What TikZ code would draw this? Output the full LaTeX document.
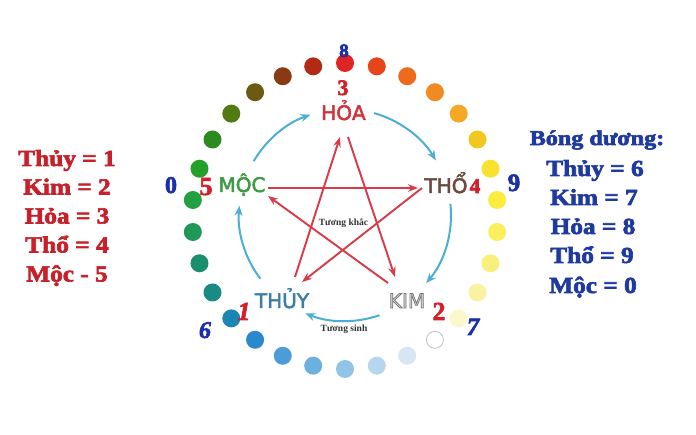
\documentclass[tikz,border=0pt]{standalone}
\usepackage{fontspec}
\setmainfont{Liberation Serif}
\newfontfamily\labfont{DejaVu Sans}
\usetikzlibrary{arrows.meta}
\newcommand\mkheavy[2]{\special{pdf:literal direct 2 Tr #1 w}#2\special{pdf:literal direct 0 Tr}}
\definecolor{txtred}{HTML}{C8202A}
\definecolor{txtblue}{HTML}{1F3A9E}
\definecolor{numred}{HTML}{D4202A}
\definecolor{numblue}{HTML}{1A2FA8}
\definecolor{sinhblue}{HTML}{4BAED6}
\definecolor{khacred}{HTML}{D83A48}
\definecolor{hoacol}{HTML}{D0343C}
\definecolor{moccol}{HTML}{3E9A45}
\definecolor{thocol}{HTML}{6B4A3F}
\definecolor{thuycol}{HTML}{3C7FA6}
\definecolor{kimfill}{HTML}{D4D4D4}
\tikzset{
  lab/.style={font={\labfont\fontsize{20}{24}\selectfont}, inner sep=0pt, anchor=base},
  listtxt/.style={font={\bfseries\fontsize{23}{28}\selectfont}, inner sep=0pt, anchor=base},
  numnode/.style={inner sep=0pt, anchor=base},
  sinh/.style={draw=sinhblue, line width=2pt, -{Stealth[length=10pt,width=8pt]}},
  khac/.style={draw=khacred, line width=1.9pt, -{Stealth[length=10pt,width=7.5pt]}},
  small/.style={font={\bfseries\fontsize{9.5}{11}\selectfont}, inner sep=0pt, text=black!80}
}
\begin{document}
\begin{tikzpicture}[x=1pt,y=-1pt]
\useasboundingbox (0,0) rectangle (696,435);
\fill[white] (0,0) rectangle (696,435);

% ring of dots
\foreach \k/\c in {0/E02424,1/E8441C,2/EE6A1C,3/F28A22,4/F5A824,5/F2C820,6/F8E22E,7/FAEC3E,8/FAF05E,9/F8F07C,10/F8F2A2,11/FAF8CC,
  13/D6E6F4,14/B6D6EE,15/92C4E6,16/6CB0E0,17/4C9CD8,18/2A88CC,19/1A86B2,20/1A8A84,21/1C8E70,22/1F9858,23/22A042,24/22A02A,25/2C8A20,26/527A12,27/6C5A12,28/8A3A12,29/B02A14}{
  \definecolor{dotc}{HTML}{\c}
  \fill[dotc] ({345+153*cos(90-12*\k)},{216-153*sin(90-12*\k)}) circle[radius=9];
}
\draw[black!25, line width=0.8pt, fill=white] ({345+153*cos(90-144)},{216-153*sin(90-144)}) circle[radius=8.5];

% element labels
\node[lab, text=hoacol] (hoa) at (343.5,120) {\mkheavy{0.5}{HỎA}};
\node[lab, text=thocol] (tho) at (446,193) {\mkheavy{0.5}{THỔ}};
\node[lab, text=kimfill] (kim) at (407,308) {\special{pdf:literal direct 2 Tr 0.7 w 0.45 0.45 0.45 RG}KIM\special{pdf:literal direct 0 Tr}};
\node[lab, text=thuycol] (thuy) at (282,308) {\mkheavy{0.5}{THỦY}};
\node[lab, text=moccol] (moc) at (242,192) {\mkheavy{0.5}{MỘC}};

% tuong sinh arcs
\coordinate (s1) at ({345+106*cos(74)},{215-106*sin(74)});
\coordinate (s2) at ({345+106*cos(6)},{215-106*sin(6)});
\coordinate (s3) at ({345+106*cos(-71)},{215-106*sin(-71)});
\coordinate (s4) at ({345+106*cos(-143)},{215-106*sin(-143)});
\coordinate (s5) at ({345+106*cos(149.5)},{215-106*sin(149.5)});
\draw[sinh] (s1) arc[start angle=-74, end angle=-31, radius=106];
\draw[sinh] (s2) arc[start angle=-6, end angle=40, radius=106];
\draw[sinh] (s3) arc[start angle=71, end angle=112, radius=106];
\draw[sinh] (s4) arc[start angle=143, end angle=185, radius=106];
\draw[sinh] (s5) arc[start angle=-149.5, end angle=-109, radius=106];

% tuong khac star
\coordinate (mocA) at (268,188);
\coordinate (thoB) at (418,188);
\coordinate (thoA) at (422,188);
\coordinate (thuyB) at (302,282);
\coordinate (thuyA) at (295,277);
\coordinate (hoaB) at (340,137);
\coordinate (hoaA) at (348,137);
\coordinate (kimB) at (395,277);
\coordinate (kimA) at (388,283);
\coordinate (mocB) at (268,196);
\draw[khac] (mocA) -- (thoB);
\draw[khac] (thoA) -- (thuyB);
\draw[khac] (thuyA) -- (hoaB);
\draw[khac] (hoaA) -- (kimB);
\draw[khac] (kimA) -- (mocB);

\node[small] (tk) at (343.5,223.5) {Tương khắc};
\node[small] (ts) at (344,329) {Tương sinh};

% numbers
\node[numnode, text=numblue, font={\bfseries\fontsize{19}{19}\selectfont}] (n8) at (344,57) {\mkheavy{0.6}{8}};
\node[numnode, text=numred, font={\bfseries\fontsize{22}{22}\selectfont}] (n3) at (343,95) {\mkheavy{0.6}{3}};
\node[numnode, text=numred, font={\bfseries\fontsize{26}{26}\selectfont}] (n5) at (206,195) {\mkheavy{0.6}{5}};
\node[numnode, text=numblue, font={\bfseries\fontsize{24}{24}\selectfont}] (n0) at (171,193) {\mkheavy{0.6}{0}};
\node[numnode, text=numred, font={\bfseries\fontsize{21}{21}\selectfont}] (n4) at (475,193) {\mkheavy{0.6}{4}};
\node[numnode, text=numblue, font={\bfseries\fontsize{25}{25}\selectfont}] (n9) at (514,191) {\mkheavy{0.6}{9}};
\node[numnode, text=numred, font={\bfseries\itshape\fontsize{26}{26}\selectfont}] (n1) at (244,320) {\mkheavy{0.6}{1}};
\node[numnode, text=numblue, font={\bfseries\itshape\fontsize{24}{24}\selectfont}] (n6) at (205,338) {\mkheavy{0.6}{6}};
\node[numnode, text=numred, font={\bfseries\fontsize{26}{26}\selectfont}] (n2) at (439,320) {\mkheavy{0.6}{2}};
\node[numnode, text=numblue, font={\bfseries\itshape\fontsize{25}{25}\selectfont}] (n7) at (473,335) {\mkheavy{0.6}{7}};

% left list
\node[listtxt, text=txtred] (l1) at (67,166) {\scalebox{1.1}[1]{\mkheavy{0.6}{Thủy = 1}}};
\node[listtxt, text=txtred] (l2) at (67,194.5) {\scalebox{1.1}[1]{\mkheavy{0.6}{Kim = 2}}};
\node[listtxt, text=txtred] (l3) at (67,223.5) {\scalebox{1.1}[1]{\mkheavy{0.6}{Hỏa = 3}}};
\node[listtxt, text=txtred] (l4) at (67,252.5) {\scalebox{1.1}[1]{\mkheavy{0.6}{Thổ = 4}}};
\node[listtxt, text=txtred] (l5) at (67,281.5) {\scalebox{1.1}[1]{\mkheavy{0.6}{Mộc - 5}}};

% right list
\node[listtxt, text=txtblue, font={\bfseries\fontsize{21}{25}\selectfont}] (r0) at (597,145) {\scalebox{1.15}[1]{\mkheavy{0.6}{Bóng dương:}}};
\node[listtxt, text=txtblue] (r1) at (595,176) {\scalebox{1.1}[1]{\mkheavy{0.6}{Thủy = 6}}};
\node[listtxt, text=txtblue] (r2) at (594,205) {\scalebox{1.1}[1]{\mkheavy{0.6}{Kim = 7}}};
\node[listtxt, text=txtblue] (r3) at (593,234) {\scalebox{1.1}[1]{\mkheavy{0.6}{Hỏa = 8}}};
\node[listtxt, text=txtblue] (r4) at (592,263) {\scalebox{1.1}[1]{\mkheavy{0.6}{Thổ = 9}}};
\node[listtxt, text=txtblue] (r5) at (593,293) {\scalebox{1.1}[1]{\mkheavy{0.6}{Mộc = 0}}};
\end{tikzpicture}
\end{document}
